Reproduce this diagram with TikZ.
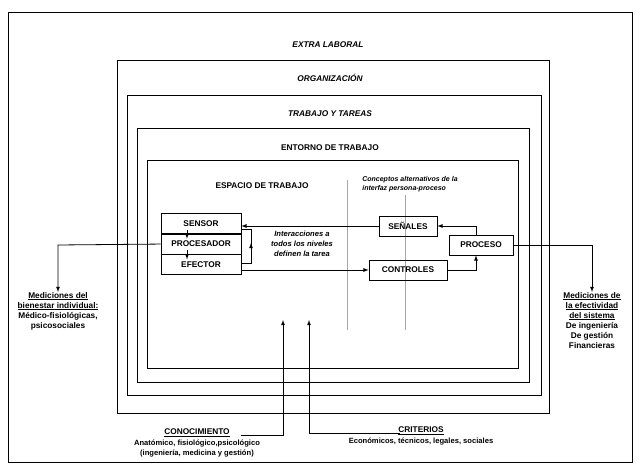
\documentclass[tikz,border=0pt]{standalone}
\usepackage{fontspec}
\setmainfont{Liberation Sans}
\begin{document}
\begin{tikzpicture}[x=1pt,y=-1pt,font=\fontsize{8.3}{10}\selectfont\bfseries,
  frame/.style={draw,line width=0.9pt},
  bx/.style={draw,line width=0.7pt,inner sep=0pt,minimum height=20,align=center},
  arr/.style={->,>=latex,line width=0.8pt},
  lab/.style={align=center,inner sep=0pt}]
\useasboundingbox (0,0) rectangle (640,468);
\draw[frame] (8,12) rectangle (632,462);
\draw[frame] (117,60) rectangle (549,413);
\draw[frame] (127,95) rectangle (541,395);
\draw[frame] (137,128) rectangle (529,382);
\draw[frame] (147,160) rectangle (518,368);
\node[lab,font=\fontsize{8.3}{10}\selectfont\bfseries\itshape] (t1) at (328,45) {EXTRA LABORAL};
\node[lab,font=\fontsize{8.3}{10}\selectfont\bfseries\itshape] (t2) at (330,78) {ORGANIZACIÓN};
\node[lab,font=\fontsize{8.3}{10}\selectfont\bfseries\itshape] (t3) at (330,114) {TRABAJO Y TAREAS};
\node[lab] (t4) at (330,148) {ENTORNO DE TRABAJO};
\node[lab] (t5) at (262,186) {ESPACIO DE TRABAJO};
\node[lab,font=\fontsize{7}{8.5}\selectfont\bfseries\itshape,align=left] (t6) at (410,184) {Conceptos alternativos de la\\interfaz persona-proceso};
\draw[gray!70,line width=0.6pt] (347,180) -- (347,330);
\draw[gray!70,line width=0.6pt] (405,195) -- (405,330);
\node[bx,minimum width=80,anchor=north] (sen) at (201,213) {SENSOR};
\node[bx,minimum width=80,anchor=north] (pro) at (sen.south) {PROCESADOR};
\node[bx,minimum width=80,anchor=north] (efe) at (pro.south) {EFECTOR};
\draw[arr] ([xshift=-14,yshift=4]sen.south) -- ([xshift=-14,yshift=-5]sen.south);
\draw[arr] ([xshift=-14,yshift=4]pro.south) -- ([xshift=-14,yshift=-5]pro.south);
\coordinate (b1) at (251,229);
\coordinate (b2) at (251,263);
\draw[line width=0.7pt] (sen.east |- b1) -- (b1) -- (b2) -- (efe.east |- b2);
\draw[arr] (251,252) -- (251,243);
\node[lab,font=\fontsize{7.6}{10}\selectfont\bfseries\itshape] (int) at (302,244) {Interacciones a\\todos los niveles\\definen la tarea};
\node[bx,minimum width=58] (sen2) at (408,226) {SEÑALES};
\node[bx,minimum width=64] (proc) at (481,245) {PROCESO};
\node[bx,minimum width=78] (con) at (408,270) {CONTROLES};
\draw[arr] (sen2.west) -- (sen.east |- sen2.west);
\draw[arr] (proc.north -| 476,0) -- (476,226) -- (sen2.east);
\draw[arr] (con.east) -- (476,270) -- (proc.south -| 476,0);
\draw[arr] (efe.east |- con.west) -- (con.west);
\coordinate (lc) at (58,245);
\coordinate (rc) at (592,245);
\node[lab,anchor=north] (lt) at (58,292) {\underline{Mediciones del}\\\underline{bienestar individual:}\\Médico-fisiológicas,\\psicosociales};
\node[lab,anchor=north] (rt) at (592,292) {\underline{Mediciones de}\\\underline{la efectividad}\\\underline{del sistema}\\De ingeniería\\De gestión\\Financieras};
\draw[arr] (pro.west) -- (lc) -- (lt.north);
\draw[arr] (proc.east) -- (rc) -- (rt.north);
\node[lab,anchor=north] (cono) at (197,429) {\underline{CONOCIMIENTO}\\[1pt]\fontsize{7.6}{9.5}\selectfont\bfseries Anatómico, fisiológico,psicológico\\\fontsize{7.6}{9.5}\selectfont\bfseries(ingeniería, medicina y gestión)};
\node[lab,anchor=north] (crit) at (421,427) {\underline{CRITERIOS}\\[1pt]\fontsize{7.6}{9.5}\selectfont\bfseries Económicos, técnicos, legales, sociales};
\coordinate (k1) at (283,320);
\coordinate (k2) at (309,320);
\coordinate (c1) at (241,435);
\coordinate (c2) at (400,433);
\draw[arr] (c1) -- (c1 -| k1) -- (k1);
\draw[arr] (c2) -- (c2 -| k2) -- (k2);
\end{tikzpicture}
\end{document}
